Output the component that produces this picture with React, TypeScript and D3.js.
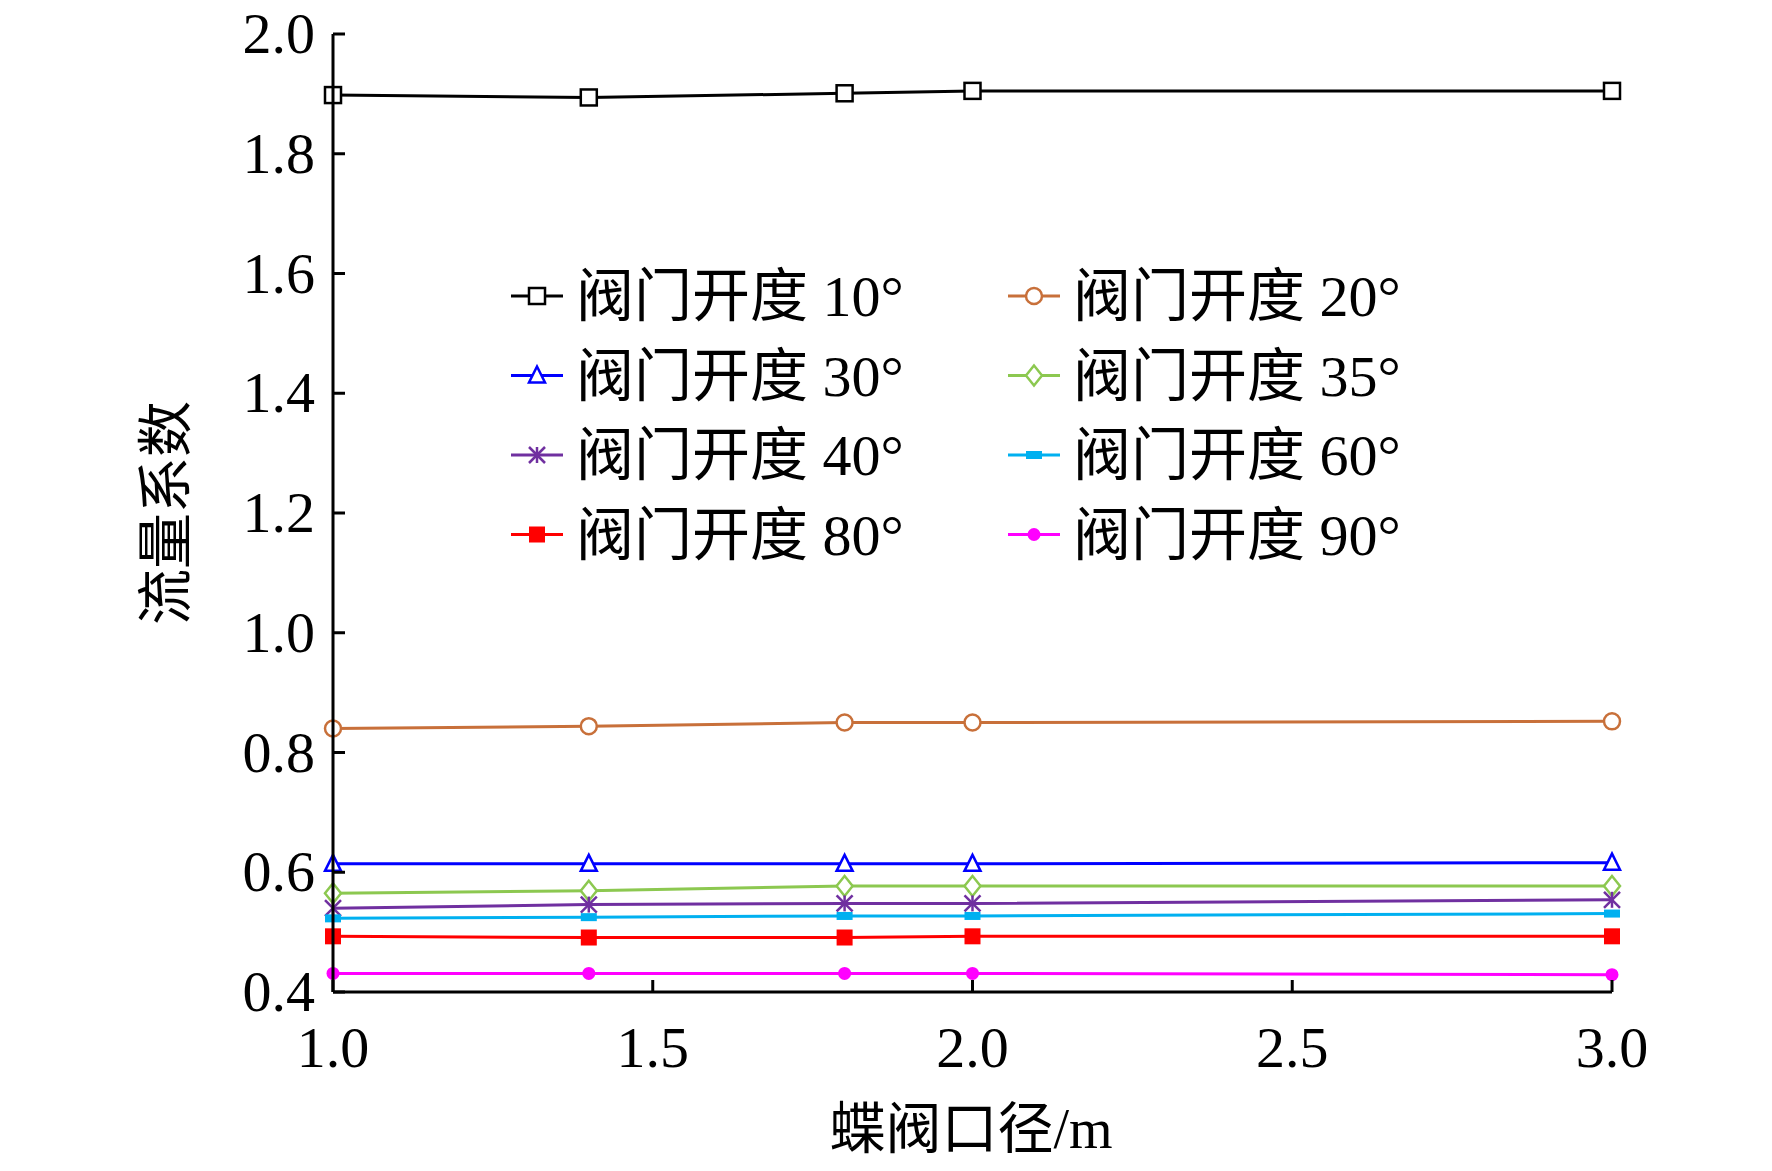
import * as d3 from "d3";
import React from "react";

const xs = [1.0, 1.4, 1.8, 2.0, 3.0];
const labels = ["阀门开度 10°", "阀门开度 20°", "阀门开度 30°", "阀门开度 35°", "阀门开度 40°", "阀门开度 60°", "阀门开度 80°", "阀门开度 90°"];
const colors = ["#000000", "#c8703a", "#0000ff", "#8cc850", "#7030a0", "#00b0f0", "#ff0000", "#ff00ff"];
const markers = ["square", "circle", "triangle", "diamond", "star", "dash", "fsquare", "fcircle"];
const values = [
  [1.898, 1.894, 1.901, 1.905, 1.905],
  [0.84, 0.844, 0.85, 0.85, 0.852],
  [0.614, 0.614, 0.614, 0.614, 0.616],
  [0.565, 0.569, 0.577, 0.577, 0.577],
  [0.54, 0.546, 0.548, 0.548, 0.554],
  [0.523, 0.525, 0.527, 0.527, 0.531],
  [0.493, 0.491, 0.491, 0.493, 0.493],
  [0.431, 0.431, 0.431, 0.431, 0.429],
];
const xTicks = [1.0, 1.5, 2.0, 2.5, 3.0];
const yTicks = [0.4, 0.6, 0.8, 1.0, 1.2, 1.4, 1.6, 1.8, 2.0];

const W = 1772, H = 1171;
const m = { left: 333, right: 1612, top: 34, bottom: 992 };
const serif = "'Liberation Serif', 'Times New Roman', serif";
const cjk = "'Noto Sans CJK SC', sans-serif";

const Marker = ({ type, x, y, c }: { type: string; x: number; y: number; c: string }) => {
  const s = 8;
  switch (type) {
    case "square":
      return <rect x={x - s} y={y - s} width={2 * s} height={2 * s} fill="white" stroke={c} strokeWidth={2.5} />;
    case "circle":
      return <circle cx={x} cy={y} r={s} fill="white" stroke={c} strokeWidth={2.5} />;
    case "triangle":
      return <path d={`M${x},${y - s - 1}L${x + s},${y + s - 1}L${x - s},${y + s - 1}Z`} fill="white" stroke={c} strokeWidth={2.5} />;
    case "diamond":
      return <path d={`M${x},${y - s - 2}L${x + s},${y}L${x},${y + s + 2}L${x - s},${y}Z`} fill="white" stroke={c} strokeWidth={2.5} />;
    case "star":
      return (
        <g stroke={c} strokeWidth={2.5}>
          <line x1={x - s} y1={y - s} x2={x + s} y2={y + s} />
          <line x1={x - s} y1={y + s} x2={x + s} y2={y - s} />
          <line x1={x} y1={y - s} x2={x} y2={y + s} />
        </g>
      );
    case "dash":
      return <rect x={x - s} y={y - 4} width={2 * s} height={8} fill={c} />;
    case "fsquare":
      return <rect x={x - s} y={y - s} width={2 * s} height={2 * s} fill={c} />;
    default:
      return <circle cx={x} cy={y} r={6.5} fill={c} />;
  }
};

export default function App() {
  const x = d3.scaleLinear().domain([1, 3]).range([m.left, m.right]);
  const y = d3.scaleLinear().domain([0.4, 2.0]).range([m.bottom, m.top]);
  const line = d3.line<number>().x((_, i) => x(xs[i])).y((d) => y(d));
  return (
    <svg width={W} height={H} style={{ display: "block", margin: -8 }}>
      <rect width={W} height={H} fill="white" />
      {values.map((v, k) => (
        <g key={k}>
          <path d={line(v) || ""} fill="none" stroke={colors[k]} strokeWidth={3} />
          {v.map((d, i) => (
            <Marker key={i} type={markers[k]} x={x(xs[i])} y={y(d)} c={colors[k]} />
          ))}
        </g>
      ))}
      <g stroke="black" strokeWidth={3}>
        <line x1={m.left} y1={m.top} x2={m.left} y2={m.bottom} />
        <line x1={m.left} y1={m.bottom} x2={m.right} y2={m.bottom} />
        {xTicks.map((t) => (
          <line key={t} x1={x(t)} x2={x(t)} y1={m.bottom} y2={m.bottom - 12} />
        ))}
        {yTicks.map((t) => (
          <line key={t} x1={m.left} x2={m.left + 12} y1={y(t)} y2={y(t)} />
        ))}
      </g>
      {xTicks.map((t) => (
        <text key={t} x={x(t)} y={m.bottom + 75} textAnchor="middle" fontFamily={serif} fontSize={58}>
          {t.toFixed(1)}
        </text>
      ))}
      {yTicks.map((t) => (
        <text key={t} x={m.left - 18} y={y(t) + 19} textAnchor="end" fontFamily={serif} fontSize={58}>
          {t.toFixed(1)}
        </text>
      ))}
      <text x={971} y={1148} textAnchor="middle" fontSize={56}>
        <tspan fontFamily={cjk}>蝶阀口径</tspan>
        <tspan fontFamily={serif}>/m</tspan>
      </text>
      <text transform={`translate(185,${y(1.2)}) rotate(-90)`} textAnchor="middle" fontFamily={cjk} fontSize={56}>
        流量系数
      </text>
      {labels.map((l, k) => {
        const lx = k % 2 === 0 ? 511 : 1008;
        const ly = 296 + Math.floor(k / 2) * 79.5;
        return (
          <g key={k}>
            <line x1={lx} x2={lx + 52} y1={ly} y2={ly} stroke={colors[k]} strokeWidth={3} />
            <Marker type={markers[k]} x={lx + 26} y={ly} c={colors[k]} />
            <text x={lx + 65} y={ly + 20} fontSize={58}>
              <tspan fontFamily={cjk}>{l.slice(0, 4)}</tspan>
              <tspan fontFamily={serif}>{" " + l.slice(5)}</tspan>
            </text>
          </g>
        );
      })}
    </svg>
  );
}
